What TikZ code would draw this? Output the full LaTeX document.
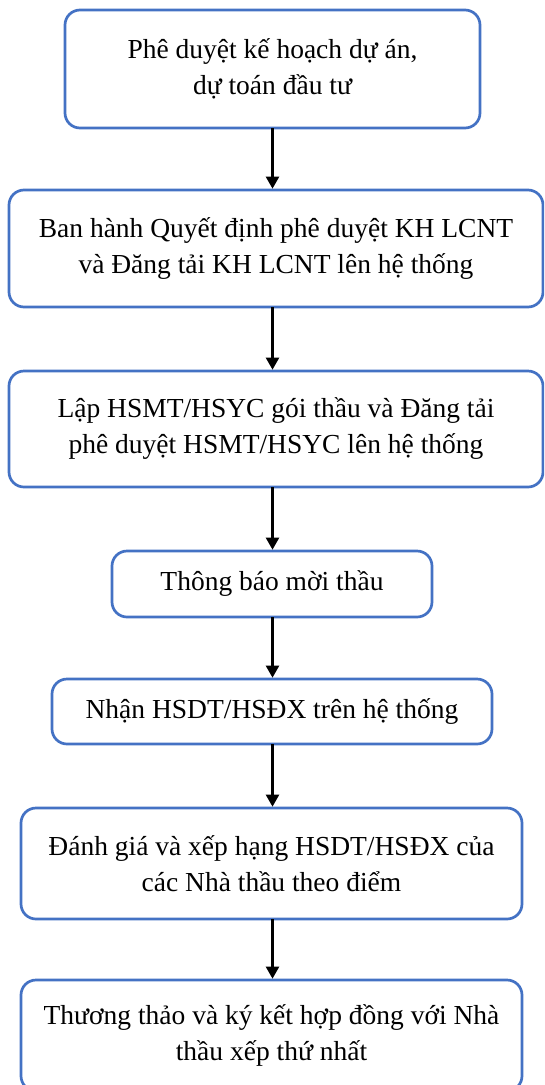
\documentclass[tikz,border=0pt]{standalone}
\usepackage{fontspec}
\setmainfont{Liberation Serif}
\usetikzlibrary{arrows.meta}
\definecolor{stepblue}{RGB}{68,114,196}
\tikzset{
  stepbox/.style={draw=stepblue, line width=2.7pt, rounded corners=15pt,
    fill=white, align=center, inner sep=0pt,
    font=\fontsize{27.5}{36}\selectfont},
  flow/.style={draw=black, line width=2.3pt,
    -{Triangle[length=12pt,width=13pt]}, shorten <=-1pt}
}
\begin{document}
\begin{tikzpicture}[x=1pt,y=-1pt]
  \useasboundingbox (0,0) rectangle (544,1085);
  \clip (0,0) rectangle (544,1085);
  \node[stepbox, minimum width=415, minimum height=118] (n1) at (272.5,69)
    {Phê duyệt kế hoạch dự án,\\dự toán đầu tư};
  \node[stepbox, minimum width=534, minimum height=117] (n2) at (276,248.5)
    {Ban hành Quyết định phê duyệt KH LCNT\\và Đăng tải KH LCNT lên hệ thống};
  \node[stepbox, minimum width=534, minimum height=116] (n3) at (276,429)
    {Lập HSMT/HSYC gói thầu và Đăng tải\\phê duyệt HSMT/HSYC lên hệ thống};
  \node[stepbox, minimum width=320, minimum height=66] (n4) at (272,584)
    {Thông báo mời thầu};
  \node[stepbox, minimum width=440, minimum height=65] (n5) at (272,711.5)
    {Nhận HSDT/HSĐX trên hệ thống};
  \node[stepbox, minimum width=501, minimum height=111] (n6) at (271.5,863.5)
    {Đánh giá và xếp hạng HSDT/HSĐX của\\các Nhà thầu theo điểm};
  \node[stepbox, minimum width=501, minimum height=111] (n7) at (271.5,1035.5)
    {Thương thảo và ký kết hợp đồng với Nhà\\thầu xếp thứ nhất};
  \draw[flow] (n1.south) -- (n1.south |- n2.north);
  \draw[flow] (n1.south |- n2.south) -- (n1.south |- n3.north);
  \draw[flow] (n1.south |- n3.south) -- (n1.south |- n4.north);
  \draw[flow] (n1.south |- n4.south) -- (n1.south |- n5.north);
  \draw[flow] (n1.south |- n5.south) -- (n1.south |- n6.north);
  \draw[flow] (n1.south |- n6.south) -- (n1.south |- n7.north);
\end{tikzpicture}
\end{document}
